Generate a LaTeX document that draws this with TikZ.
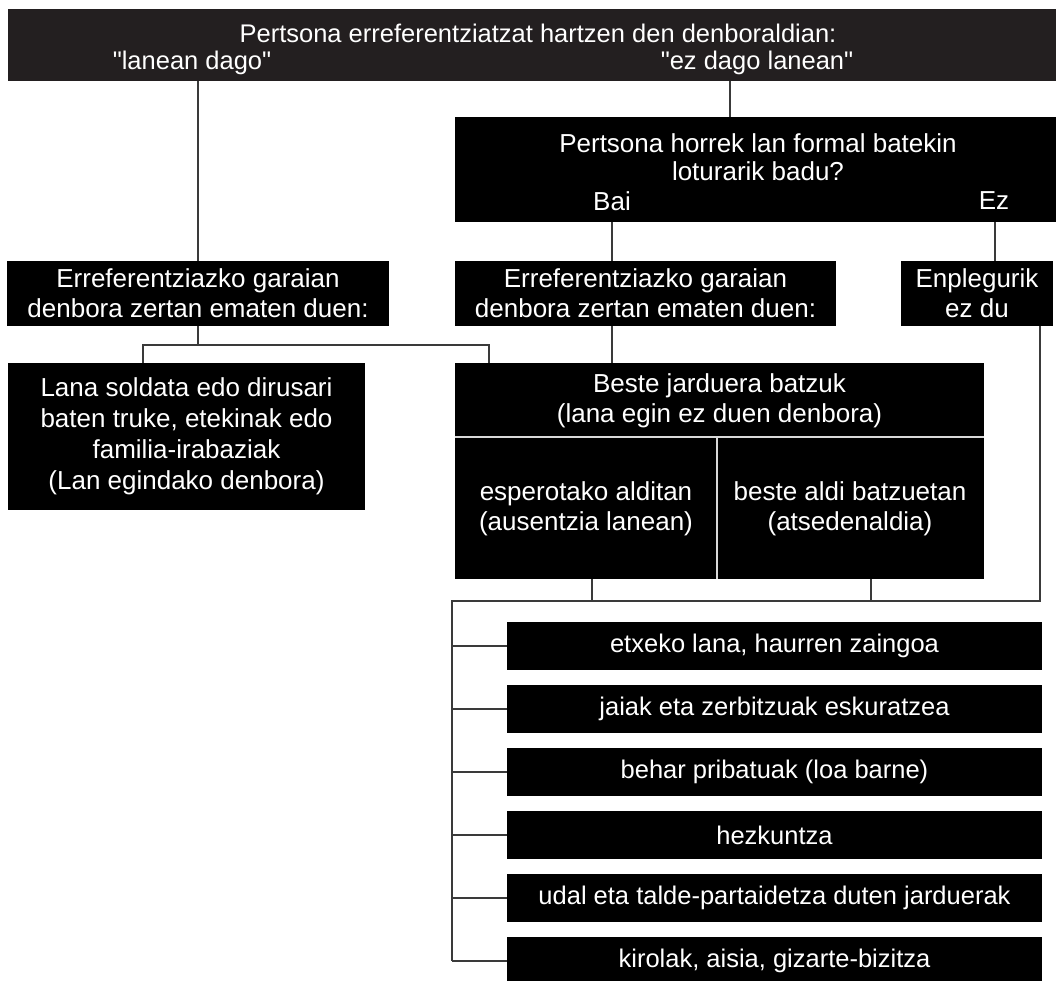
\documentclass[tikz,border=0pt]{standalone}
\usepackage{fontspec}
\setmainfont{Liberation Sans}[Ligatures=TeXOff]
\usetikzlibrary{calc}
\definecolor{topbar}{HTML}{231F20}
\definecolor{connc}{HTML}{3A3A3A}
\begin{document}
\begin{tikzpicture}[x=1pt,y=-1pt,
  box/.style={fill=black,text=white,inner sep=0pt,align=center,font=\fontsize{26}{30}\selectfont},
  lbox/.style={fill=black,text=white,inner sep=0pt,align=center,minimum width=535pt,minimum height=48pt,font=\fontsize{25.5}{30}\selectfont},
  wtxt/.style={text=white,inner sep=0pt,align=center,font=\fontsize{26}{30}\selectfont},
  conn/.style={draw=connc,line width=1.3pt},
  divider/.style={draw=white!85!black,line width=1.2pt}]
\useasboundingbox (0,0) rectangle (1056,980);
% top bar
\node[fill=topbar,inner sep=0pt,minimum width=1048pt,minimum height=72pt] (top) at (532,45) {};
\node[wtxt,font=\fontsize{25.5}{30}\selectfont] (t1) at (538,33) {Pertsona erreferentziatzat hartzen den denboraldian:};
\node[wtxt,font=\fontsize{25.5}{30}\selectfont] (t2) at (192,63) {"lanean dago"};
\node[wtxt,font=\fontsize{25.5}{30}\selectfont] (t3) at (757,63) {"ez dago lanean"};
% question box
\node[box,minimum width=601pt,minimum height=105pt] (Q) at (755.5,169.5) {};
\node[wtxt] (q1) at (758,143) {Pertsona horrek lan formal batekin};
\node[wtxt] (q2) at (758,171) {loturarik badu?};
\node[wtxt] (bai) at (612,201) {Bai};
\node[wtxt] (ez) at (994,201) {Ez};
% second row
\node[box,minimum width=382pt,minimum height=65pt] (EL) at (198,293.5) {Erreferentziazko garaian\\denbora zertan ematen duen:};
\node[box,minimum width=381pt,minimum height=65pt] (EM) at (645.5,293.5) {Erreferentziazko garaian\\denbora zertan ematen duen:};
\node[box,minimum width=152pt,minimum height=65pt] (EN) at (977,293.5) {Enplegurik\\ez du};
% third row
\node[box,minimum width=357pt,minimum height=147pt,font=\fontsize{26}{31}\selectfont] (L) at (186.5,436.5) {Lana soldata edo dirusari\\baten truke, etekinak edo\\familia-irabaziak\\(Lan egindako denbora)};
\node[box,minimum width=529pt,minimum height=216pt] (B) at (719.5,471) {};
\node[wtxt] (b1) at (719.5,401) {Beste jarduera batzuk\\(lana egin ez duen denbora)};
\node[wtxt] (b2) at (586,509) {esperotako alditan\\(ausentzia lanean)};
\node[wtxt] (b3) at (850,509) {beste aldi batzuetan\\(atsedenaldia)};
\coordinate (dh) at (717,437);
\draw[divider] (B.west |- dh) -- (B.east |- dh);
\draw[divider] (dh) -- (dh |- B.south);
% list
\node[lbox] (K1) at (774.5,646) {etxeko lana, haurren zaingoa};
\node[lbox] (K2) at (774.5,709) {jaiak eta zerbitzuak eskuratzea};
\node[lbox] (K3) at (774.5,772) {behar pribatuak (loa barne)};
\node[lbox] (K4) at (774.5,835) {hezkuntza};
\node[lbox] (K5) at (774.5,898) {udal eta talde-partaidetza duten jarduerak};
\node[lbox] (K6) at (774.5,961) {kirolak, aisia, gizarte-bizitza};
% connectors
\coordinate (qin) at (730,117);
\draw[conn] (top.south -| EL.north) -- (EL.north);
\draw[conn] (top.south -| qin) -- (qin);
\coordinate (cb) at (612,222);
\coordinate (ce) at (995,222);
\draw[conn] (cb) -- (cb |- EM.north);
\draw[conn] (ce) -- (ce |- EN.north);
\coordinate (j1) at (198,345);
\coordinate (lj) at (143,345);
\coordinate (bj) at (489,345);
\draw[conn] (EL.south) -- (j1);
\draw[conn] (lj |- L.north) -- (lj) -- (bj) -- (bj |- B.north);
\draw[conn] (EM.south -| cb) -- (B.north -| cb);
\coordinate (enx) at (1040,601);
\coordinate (bl) at (452,601);
\draw[conn] (EN.south -| enx) -- (enx) -- (bl) -- (bl |- K6.west);
\coordinate (s1) at (592,579);
\coordinate (s2) at (871,579);
\draw[conn] (s1) -- (s1 |- bl);
\draw[conn] (s2) -- (s2 |- bl);
\foreach \k in {K1,K2,K3,K4,K5,K6} {\draw[conn] (bl |- \k.west) -- (\k.west);}
\end{tikzpicture}
\end{document}
